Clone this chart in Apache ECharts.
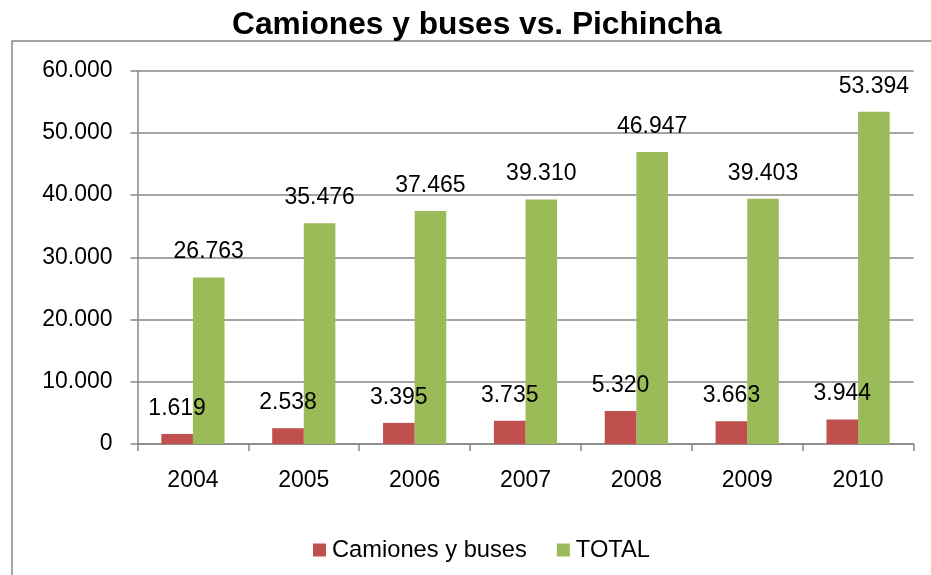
<!DOCTYPE html>
<html>
<head>
<meta charset="utf-8">
<title>Camiones y buses vs. Pichincha</title>
<script src="https://cdn.jsdelivr.net/npm/echarts@6/dist/echarts.min.js"></script>
<style>
  html, body { margin: 0; padding: 0; background: #ffffff; }
  #chart { width: 931px; height: 575px; }
</style>
</head>
<body>
<div id="chart"></div>
<script>
// Years on the category axis
const years = ['2004', '2005', '2006', '2007', '2008', '2009', '2010'];
// Trucks and buses registered
const camionesBuses = [1619, 2538, 3395, 3735, 5320, 3663, 3944];
// Total vehicles in Pichincha
const total = [26763, 35476, 37465, 39310, 46947, 39403, 53394];
// Value axis range
const yMin = 0, yMax = 60000, yStep = 10000;

const FONT = '"Liberation Sans", Arial, sans-serif';
const GRAY = '#878787';

// Thousands separated with a dot
function fmt(v) {
  return String(Math.round(v)).replace(/\B(?=(\d{3})+(?!\d))/g, '.');
}

const chart = echarts.init(document.getElementById('chart'), null, { renderer: 'canvas' });

const labelStyle = {
  show: true,
  position: 'top',
  distance: 14,
  color: '#000',
  fontFamily: FONT,
  fontSize: 23,
  lineHeight: 23,
  formatter: p => fmt(p.value)
};

chart.setOption({
  backgroundColor: '#ffffff',
  animation: false,
  title: {
    text: 'Camiones y buses vs. Pichincha',
    left: 227,
    top: 4,
    textStyle: { fontFamily: FONT, fontWeight: 'bold', fontSize: 31.7, color: '#000' }
  },
  graphic: [{
    type: 'rect',
    shape: { x: 12, y: 41, width: 1000, height: 1000 },
    style: { fill: 'none', stroke: GRAY, lineWidth: 1.5 },
    silent: true,
    z: -1
  }],
  legend: {
    left: 308,
    top: 533,
    itemWidth: 13,
    itemHeight: 13,
    itemGap: 30,
    icon: 'rect',
    textStyle: { fontFamily: FONT, fontSize: 23.7, color: '#000', padding: [0, 0, 0, 1] },
    data: ['Camiones y buses', 'TOTAL']
  },
  grid: { left: 137.5, right: 17.5, top: 70.7, bottom: 131, containLabel: false },
  xAxis: {
    type: 'category',
    data: years,
    axisLine: { lineStyle: { color: GRAY, width: 1.5 } },
    axisTick: { show: true, length: 7, lineStyle: { color: GRAY, width: 1.5 } },
    axisLabel: { color: '#000', fontFamily: FONT, fontSize: 23, margin: 25 }
  },
  yAxis: {
    type: 'value',
    min: yMin,
    max: yMax,
    interval: yStep,
    axisLine: { show: true, lineStyle: { color: GRAY, width: 1.5 } },
    axisTick: { show: true, length: 7, lineStyle: { color: GRAY, width: 1.5 } },
    splitLine: { show: true, lineStyle: { color: GRAY, width: 1.5 } },
    axisLabel: { color: '#000', fontFamily: FONT, fontSize: 23, margin: 25, formatter: v => fmt(v) }
  },
  series: [
    {
      // drawn above the TOTAL bars so its labels stay readable where they overlap
      name: 'Camiones y buses',
      type: 'bar',
      data: camionesBuses,
      barGap: '0%',
      barCategoryGap: '43%',
      itemStyle: { color: '#C0504D' },
      label: labelStyle,
      z: 3
    },
    {
      name: 'TOTAL',
      type: 'bar',
      data: total,
      barGap: '0%',
      barCategoryGap: '43%',
      itemStyle: { color: '#9BBB59' },
      label: labelStyle,
      z: 2
    }
  ]
});
</script>
</body>
</html>
